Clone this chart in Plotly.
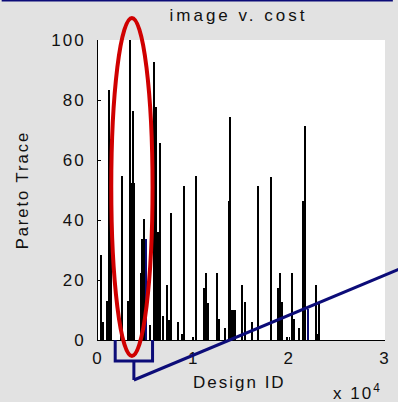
import plotly.graph_objects as go

# ---- data ----
design_ids = [360, 550, 1010, 1200, 1290, 1390, 2440, 2550, 3160, 3350, 3470, 3640, 3760,
              4460, 4660, 4850, 5480, 5820, 6010, 6130, 6260, 6460, 6770, 7180, 7350,
              7470, 7600, 8400, 8760, 8970, 9930, 10260, 11130, 11310, 11520, 12440,
              12680, 13270, 13680, 13850, 13970, 14160, 14300, 15050, 15410, 16130,
              16780, 18140, 18870, 19070, 19230, 19820, 20310, 20480, 21030, 21420,
              21620, 22780, 22960, 23120]
pareto_trace = [28.3, 6.1, 13.1, 83.5, 67, 57.8, 2, 54.7, 13, 100, 52.4, 76.4, 52.4,
                22.3, 33.6, 40.2, 5, 92.8, 77.6, 77.6, 36, 65.6, 8, 18.4, 6.8,
                6.8, 42.2, 6, 2, 51.3, 1, 54.7, 17.4, 22.3, 12.2, 22.3,
                7, 3.9, 46.4, 74.4, 10, 10, 10, 18.3, 12.6, 6,
                51.3, 54.4, 17.4, 22.3, 12.6, 1, 22.3, 7, 3.9, 46.4,
                71.3, 18.3, 2, 12.8]
highlight_ids = [5020, 21960]
highlight_trace = [33.6, 10.5]

x_tick_vals = [0, 10000, 20000, 30000]
x_tick_text = ["0", "1", "2", "3"]
y_tick_vals = [0, 20, 40, 60, 80, 100]

title_text = "image v. cost"
x_label = "Design ID"
y_label = "Pareto Trace"
x_exponent = "x 10<sup>4</sup>"

# ---- figure ----
W, H = 398, 402
L, R, T, B = 98, 8, 40, 62
PW, PH = W - L - R, H - T - B


def px(xp):
    return (xp - L) / PW


def py(yp):
    return (H - B - yp) / PH


FONT = "Liberation Sans, Arial, sans-serif"
NAVY = "#0c0c78"
RED = "#d00000"
TXT = "#111111"

fig = go.Figure()
fig.add_trace(go.Bar(x=design_ids, y=pareto_trace, width=140,
                     marker=dict(color="black", line=dict(width=0)), showlegend=False))
fig.add_trace(go.Bar(x=highlight_ids, y=highlight_trace, width=110,
                     marker=dict(color=NAVY, line=dict(width=0)), showlegend=False))

fig.update_layout(
    width=W, height=H,
    margin=dict(l=L, r=R, t=T, b=B, pad=0),
    paper_bgcolor="#e2e2e2", plot_bgcolor="white",
    barmode="overlay", bargap=0,
    font=dict(family=FONT, size=17, color=TXT),
    xaxis=dict(range=[0, 30000], tickvals=x_tick_vals, ticktext=x_tick_text,
               ticks="inside", ticklen=3, tickcolor="black", showline=True,
               linecolor="black", linewidth=1, showgrid=False, zeroline=False,
               mirror=False, tickfont=dict(size=17), ticklabelstandoff=3),
    yaxis=dict(range=[0, 100], tickvals=y_tick_vals,
               ticks="inside", ticklen=3, tickcolor="black", showline=True,
               linecolor="black", linewidth=1, showgrid=False, zeroline=False,
               mirror=False, tickfont=dict(size=17), ticklabelstandoff=8),
)


def note(text, x, y, size, angle=0):
    fig.add_annotation(text=text, x=px(x), y=py(y), xref="paper", yref="paper",
                       xanchor="center", yanchor="middle",
                       showarrow=False, textangle=angle,
                       font=dict(family=FONT, size=size, color=TXT))


note(title_text, 241, 15, 17)
note(x_label, 242, 382, 17)
note(y_label, 21, 190, 16.5, -90)
note(x_exponent, 362, 392, 17)

# highlight annotations (red ellipse, navy bracket and pointer line)
fig.add_shape(type="circle", xref="paper", yref="paper",
              x0=px(111.5), x1=px(153.5), y0=py(356), y1=py(18),
              line=dict(color=RED, width=4))
fig.add_shape(type="path", xref="paper", yref="paper",
              path=f"M {px(115.5)},{py(340)} L {px(115.5)},{py(361)} L {px(153.5)},{py(361)} L {px(153.5)},{py(340)}",
              line=dict(color=NAVY, width=3))
fig.add_shape(type="line", xref="paper", yref="paper",
              x0=px(134.5), x1=px(134.5), y0=py(361), y1=py(380),
              line=dict(color=NAVY, width=3))
fig.add_shape(type="line", xref="paper", yref="paper",
              x0=px(134.5), x1=px(405), y0=py(380), y1=py(269),
              line=dict(color=NAVY, width=3))
fig.add_shape(type="line", xref="paper", yref="paper",
              x0=px(0), x1=px(W), y0=py(0.5), y1=py(0.5),
              line=dict(color=NAVY, width=2))

post = ("document.body.style.margin='0';"
        "document.querySelectorAll('.main-svg text').forEach(function(t){"
        "t.style.letterSpacing = (t.textContent === 'image v. cost') ? '3px' : '2px';});")
fig.write_html("out.html", post_script=post, config={"displayModeBar": False})
